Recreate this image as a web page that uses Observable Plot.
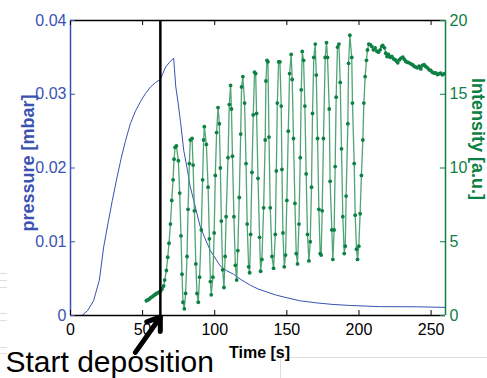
<!DOCTYPE html>
<html><head><meta charset="utf-8">
<script src="https://cdn.jsdelivr.net/npm/d3@7"></script>
<script src="https://cdn.jsdelivr.net/npm/@observablehq/plot@0.6"></script>
<style>
body{margin:0;background:#fff;}
#wrap{position:relative;width:487px;height:378px;overflow:hidden;background:#fff;}
.deco{position:absolute;background:#dedede;}
#wrap svg{position:absolute;left:0;top:0;}
</style></head><body>
<div id="wrap">
  <div class="deco" style="left:0;top:273px;width:7px;height:1px"></div>
  <div class="deco" style="left:0;top:280px;width:7px;height:1px"></div>
  <div class="deco" style="left:0;top:287px;width:7px;height:1px"></div>
  <div class="deco" style="left:0;top:313px;width:7px;height:1px"></div>
  <div class="deco" style="left:0;top:320px;width:7px;height:1px"></div>
  <div class="deco" style="left:0;top:347px;width:7px;height:1px"></div>
  <div class="deco" style="left:0;top:353px;width:7px;height:1px"></div>
  <div class="deco" style="left:280px;top:357px;width:207px;height:1px"></div>
  <div class="deco" style="left:280px;top:357px;width:1px;height:21px"></div>
</div>
<script>
// ---- data ----
const pressureTime  = [0, 8, 12, 16, 20, 23, 26, 29, 32, 35, 38, 41.5, 45, 48.5, 52, 55.5, 59, 62.3, 64, 66, 68.5, 71.5, 73, 74.5, 76.2, 78.5, 81, 83, 85.4, 90, 94.7, 97, 103.9, 108, 113, 118, 124.7, 130, 136, 142, 148, 159, 171, 182, 194, 215, 240, 260];
const pressureValue = [0, 0, 0.0007, 0.002, 0.0048, 0.0093, 0.0125, 0.0156, 0.0185, 0.0212, 0.0236, 0.026, 0.0277, 0.029, 0.0301, 0.031, 0.0316, 0.032, 0.0328, 0.0337, 0.0343, 0.0349, 0.031, 0.029, 0.0264, 0.0224, 0.0198, 0.0175, 0.0156, 0.012, 0.0098, 0.0088, 0.0067, 0.0061, 0.0056, 0.0049, 0.0041, 0.0036, 0.0032, 0.0028, 0.0025, 0.002, 0.0017, 0.0015, 0.00136, 0.0012, 0.00118, 0.0011];

// [time s, intensity a.u.]
const intensityPoints = [
 [52.6,1.0],[53.5,1.05],[54.4,1.1],[55.3,1.18],[56.2,1.25],[57.1,1.3],[58.0,1.38],[58.9,1.44],[59.8,1.5],[60.7,1.55],[61.6,1.6],[62.5,1.66],
 [63.5,1.8],[64.6,2.0],[65.3,2.4],[66.5,3.05],[67.4,3.95],[68.3,4.9],[69.3,6.2],[70.2,7.8],[71.1,9.2],[71.8,10.6],[72.5,11.4],[73.4,11.5],[74.8,10.5],[75.7,8.3],[76.6,5.4],[77.3,2.8],[78.0,0.9],[78.9,0.45],
 [79.8,1.5],[80.8,4.0],[81.5,7.2],[82.4,10.3],[83.1,11.9],[84.3,12.0],[85.0,10.2],[85.9,7.1],[86.9,3.5],[87.7,1.5],[88.6,0.9],
 [89.5,2.6],[90.7,5.8],[91.6,9.2],[92.3,11.9],[92.8,12.8],[94.2,11.6],[95.4,8.7],[96.3,5.2],[97.0,2.3],[97.6,1.4],
 [98.7,2.6],[99.6,5.6],[100.4,9.5],[101.3,12.4],[102.3,14.1],[103.2,13.0],[103.9,10.0],[104.6,6.4],[105.5,3.1],[106.4,1.9],
 [107.2,4.0],[107.9,6.7],[109.2,10.7],[110.1,14.3],[111.0,15.6],[111.6,14.0],[112.3,10.8],[113.3,6.7],[114.3,3.4],[115.2,2.4],
 [116.0,4.4],[117.0,8.0],[118.0,12.3],[118.6,15.5],[119.5,16.2],[120.7,14.4],[121.7,10.3],[122.5,6.2],[123.5,3.3],[124.2,2.9],
 [124.9,5.5],[125.8,9.7],[126.7,13.6],[127.6,16.5],[128.4,16.4],[129.0,13.7],[130.0,9.3],[131.1,5.3],[131.8,3.0],
 [132.7,3.8],[133.9,7.3],[135.0,11.9],[135.5,15.9],[136.2,17.3],[136.9,17.2],[137.6,12.1],[138.5,7.3],[139.7,4.0],[140.8,3.2],
 [142.0,5.5],[142.7,9.8],[143.4,14.4],[144.3,17.2],[145.2,17.2],[146.1,14.2],[146.6,9.9],[147.3,5.6],[148.2,3.3],
 [149.1,4.1],[150.0,7.8],[151.0,12.5],[151.9,16.4],[153.0,17.7],[153.7,16.0],[154.6,12.0],[155.6,7.6],[156.5,4.2],[157.4,3.5],
 [158.4,6.2],[159.3,10.7],[160.0,15.3],[160.7,17.9],[161.6,17.3],[162.5,14.2],[163.4,9.6],[164.3,5.5],[165.3,3.7],
 [166.2,5.0],[167.1,8.7],[167.8,13.7],[168.7,17.5],[169.7,18.4],[170.4,16.3],[171.3,12.0],[172.2,7.2],[173.1,4.2],[173.8,4.1],
 [174.5,7.1],[175.4,12.0],[176.6,17.5],[177.5,18.5],[178.2,17.5],[179.4,14.0],[180.0,9.1],[181.2,5.8],[181.9,3.8],
 [182.8,5.8],[183.5,10.1],[184.2,14.8],[185.1,18.2],[186.1,18.4],[187.0,15.8],[187.9,11.3],[188.8,6.7],[189.8,4.2],
 [190.5,4.7],[191.1,8.1],[192.3,13.0],[192.8,17.1],[193.7,19.0],[195.0,17.5],[195.5,14.4],[196.7,10.3],[197.4,6.8],[198.3,4.5],[199.0,3.8],
 [199.9,4.7],[200.8,6.9],[201.7,9.5],[202.7,11.9],[203.4,14.4],[204.3,16.2],[205.2,17.3],[205.9,18.0],[206.8,18.4],
 [207.8,18.37],[208.9,18.24],[210.0,18.01],[211.2,18.15],[212.4,17.92],[213.5,17.85],[214.7,18.01],[215.8,18.24],[216.5,18.31],[217.7,18.15],
 [218.6,17.78],[219.5,17.56],[220.4,17.70],[221.6,17.51],[222.8,17.56],[223.9,17.40],[225.1,17.34],[226.2,17.24],[226.9,17.13],[228.1,17.34],
 [229.2,17.45],[230.4,17.51],[231.5,17.36],[232.5,17.22],[233.6,17.17],[234.8,17.13],[235.9,17.06],[237.1,17.0],[238.2,16.90],[239.4,16.84],
 [240.5,16.79],[241.7,16.90],[242.9,16.72],[244.0,16.95],[245.2,17.0],[246.3,16.88],[247.5,16.79],[248.6,16.66],[249.8,16.61],[250.9,16.50],
 [252.1,16.43],[253.2,16.45],[254.4,16.34],[255.5,16.39],[256.7,16.43],[257.8,16.32],[259.2,16.39]
];

const startTime = 62.3;                  // start of deposition (s)
const arrowTail = [45.0, -0.005];        // annotation arrow tail (s, mbar)
const xTicks = [0, 50, 100, 150, 200, 250];
const pressureTicks = [0, 0.01, 0.02, 0.03, 0.04];
const intensityTicks = [0, 5, 10, 15, 20];
const xDomain = [0, 260];
const pressureDomain = [0, 0.04];
const intensityDomain = [0, 20];

const BLUE = "#3a52b2", GREEN = "#0d8043", GREENLINE = "#3d9a66";
const k = pressureDomain[1] / intensityDomain[1]; // map intensity onto pressure scale

const pressure = pressureTime.map((t, i) => ({t, p: pressureValue[i]}));
const intensity = intensityPoints.map(([t, v]) => ({t, v}));

const chart = Plot.plot({
  width: 487, height: 378,
  marginLeft: 70, marginRight: 42, marginTop: 20, marginBottom: 63,
  style: {fontFamily: "'Liberation Sans', Arial, sans-serif", fontSize: "16px", background: "transparent", overflow: "visible"},
  x: {domain: xDomain},
  y: {domain: pressureDomain},
  marks: [
    Plot.line(pressure, {x: "t", y: "p", stroke: BLUE, strokeWidth: 1}),
    Plot.line(intensity, {x: "t", y: d => d.v * k, stroke: GREENLINE, strokeWidth: 1.3, strokeOpacity: 0.9}),
    Plot.dot(intensity, {x: "t", y: d => d.v * k, r: 1.9, fill: GREEN, stroke: "none"}),
    // frame
    Plot.ruleY([pressureDomain[1]], {stroke: "black", strokeWidth: 1.5}),
    Plot.ruleY([pressureDomain[0]], {stroke: "black", strokeWidth: 1.5}),
    Plot.ruleX([xDomain[0]], {stroke: BLUE, strokeWidth: 1.5}),
    Plot.ruleX([xDomain[1]], {stroke: GREEN, strokeWidth: 1.5}),
    // inward ticks
    Plot.tickX(xTicks, {x: d => d, insetTop: 290, stroke: "black"}),
    Plot.tickX(xTicks, {x: d => d, insetBottom: 290, stroke: "black"}),
    Plot.tickY(pressureTicks, {y: d => d, insetRight: 370, stroke: BLUE}),
    Plot.tickY(intensityTicks, {y: d => d * k, insetLeft: 370, stroke: GREEN}),
    // axes labels
    Plot.axisX({ticks: xTicks, tickSize: 0, tickPadding: 8, label: null, fontSize: 16, fill: "black"}),
    Plot.axisY({anchor: "left", ticks: pressureTicks, tickSize: 0, tickPadding: 4, label: null, fontSize: 16, fill: BLUE,
      tickFormat: d => d === 0 ? "0" : d.toFixed(2)}),
    Plot.axisY({anchor: "right", ticks: intensityTicks.map(v => v * k), tickSize: 0, tickPadding: 4, label: null, fontSize: 16, fill: GREEN,
      tickFormat: d => String(Math.round(d / k))}),
    // start deposition line and arrow
    Plot.ruleX([startTime], {y1: 0, y2: pressureDomain[1], stroke: "black", strokeWidth: 2.5}),
    Plot.arrow([{x1: arrowTail[0], y1: arrowTail[1], x2: startTime, y2: -0.0002}],
      {x1: "x1", y1: "y1", x2: "x2", y2: "y2", stroke: "black", strokeWidth: 5, headLength: 8, headAngle: 70}),
    // titles
    Plot.text(["pressure [mbar]"], {text: d => d, frameAnchor: "left", textAnchor: "middle", rotate: -90, dx: -42, dy: -5, fontWeight: "bold", fontSize: 18, fill: BLUE}),
    Plot.text(["Intensity [a.u.]"], {text: d => d, frameAnchor: "right", textAnchor: "middle", rotate: 90, dx: 32, dy: -29, fontWeight: "bold", fontSize: 18, fill: GREEN}),
    Plot.text(["Time [s]"], {text: d => d, frameAnchor: "bottom", dx: 1.5, dy: 42, fontWeight: "bold", fontSize: 16, fill: "black"}),
    Plot.text(["Start deposition"], {text: d => d, frameAnchor: "bottom-left", textAnchor: "start", lineAnchor: "bottom", dx: -65, dy: 56, fontSize: 30, fill: "black"})
  ]
});
document.getElementById("wrap").appendChild(chart);
</script>
</body></html>
